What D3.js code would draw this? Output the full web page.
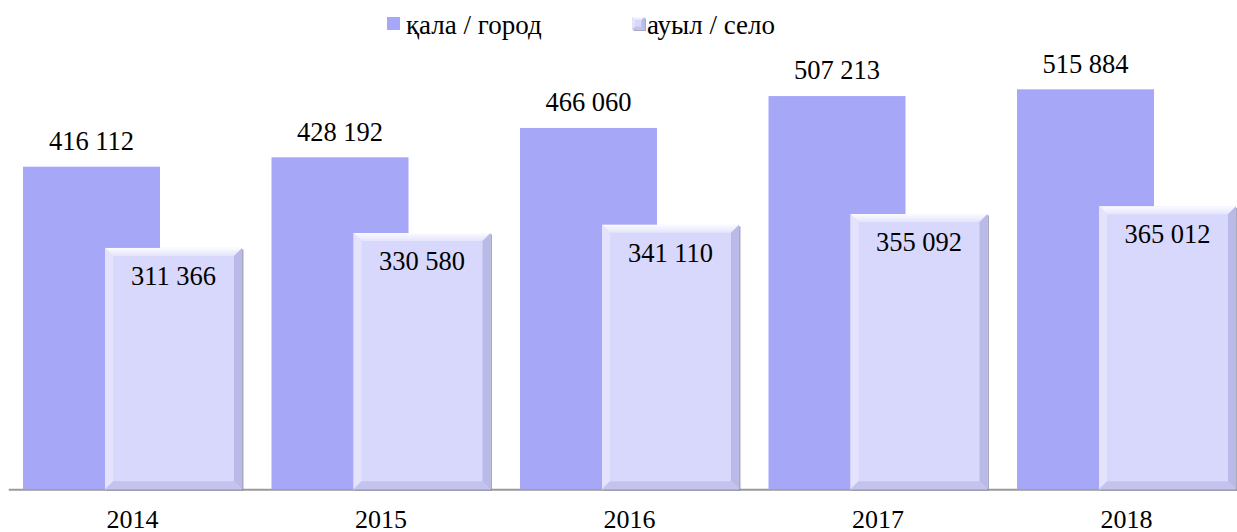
<!DOCTYPE html>
<html><head><meta charset="utf-8">
<script src="https://cdn.jsdelivr.net/npm/d3@7"></script>
<style>
html,body{margin:0;padding:0;background:#fff;}
svg{display:block;}
</style></head>
<body>
<svg id="chart" width="1237" height="532"></svg>
<script>
const years = ["2014","2015","2016","2017","2018"];
const cityValues = [416112, 428192, 466060, 507213, 515884];
const villageValues = [311366, 330580, 341110, 355092, 365012];
const seriesNames = ["қала / город", "ауыл / село"];

const FONT = "'Liberation Serif', Tinos, 'Times New Roman', Times, 'DejaVu Serif', serif";
const svg = d3.select("#chart").style("font-family", FONT);
const defs = svg.append("defs");
const g1 = defs.append("linearGradient").attr("id","topBevel").attr("x1",0).attr("y1",0).attr("x2",0).attr("y2",1);
g1.append("stop").attr("offset","0%").attr("stop-color","#fbfbff");
g1.append("stop").attr("offset","100%").attr("stop-color","#e4e4fd");

const baseY = 489.3;
const pxPerUnit = 7.753e-4;
const yMax = 600000;
const y = d3.scaleLinear().domain([0, yMax]).range([baseY, baseY - yMax*pxPerUnit]);
const x = d3.scaleBand().domain(years).range([8.25, 1250.75]).padding(0);

const barW = 137, cityOff = -109.5, villOff = -27.5, bev = 8;
const cityColor = "#a6a8f7", villColor = "#d8d8fc";
const fmt = v => d3.format(",")(v).replace(/,/g, " ");

// axis
const axis = d3.axisBottom(x).tickSize(0).tickPadding(0);
const ax = svg.append("g").attr("transform", `translate(0,${baseY})`).call(axis)
  .attr("font-family", null).attr("font-size", null);
ax.select(".domain").attr("stroke","#9a9a9a").attr("stroke-width",2);
ax.selectAll(".tick text").attr("dy",null).attr("y",38.5).style("font-size","26px")
  .style("font-family", FONT).attr("fill","#000");

// city bars
const cityG = svg.append("g");
cityG.selectAll("rect").data(years).join("rect")
  .attr("x", d => x(d) + x.bandwidth()/2 + cityOff)
  .attr("y", (d,i) => y(cityValues[i]))
  .attr("width", barW)
  .attr("height", (d,i) => y(0) - y(cityValues[i]))
  .attr("fill", cityColor);
cityG.selectAll("text").data(years).join("text")
  .attr("x", d => x(d) + x.bandwidth()/2 + cityOff + barW/2)
  .attr("y", (d,i) => y(cityValues[i]) - 16.6)
  .attr("text-anchor","middle").style("font-size","26.5px").style("font-family", FONT)
  .text((d,i) => fmt(cityValues[i]));

// bevel drawing
function bevelBar(sel, w, h, b) {
  sel.append("rect").attr("x",1.5).attr("y",1.5).attr("width",w).attr("height",h).attr("fill","#8d8daa").attr("opacity",0.75);
  sel.append("rect").attr("width",w).attr("height",h).attr("fill",villColor);
  sel.append("polygon").attr("points",`0,0 ${w},0 ${w-b},${b} ${b},${b}`).attr("fill","url(#topBevel)");
  sel.append("polygon").attr("points",`0,0 ${b},${b} ${b},${h-b} 0,${h}`).attr("fill","#e3e3fd");
  sel.append("polygon").attr("points",`${w},0 ${w},${h} ${w-b},${h-b} ${w-b},${b}`).attr("fill","#babae8");
  sel.append("polygon").attr("points",`0,${h} ${w},${h} ${w-b},${h-b} ${b},${h-b}`).attr("fill","#c3c3ee");
}

const villG = svg.append("g");
years.forEach((d,i) => {
  const bx = x(d) + x.bandwidth()/2 + villOff;
  const by = y(villageValues[i]);
  const h = y(0) - by;
  const gg = villG.append("g").attr("transform",`translate(${bx},${by})`);
  bevelBar(gg, barW, h, bev);
  villG.append("text").attr("x", bx + barW/2).attr("y", by + 37)
    .attr("text-anchor","middle").style("font-size","26.5px").style("font-family", FONT)
    .text(fmt(villageValues[i]));
});

// legend
const lg = svg.append("g");
lg.append("rect").attr("x",387).attr("y",17).attr("width",13).attr("height",13).attr("fill",cityColor);
lg.append("text").attr("x",406).attr("y",34).style("font-size","27px").style("font-family", FONT).text(seriesNames[0]);
const lm = lg.append("g").attr("transform","translate(632,17)");
bevelBar(lm, 12.5, 12.5, 3);
lg.append("text").attr("x",647).attr("y",34).style("font-size","27px").style("font-family", FONT).text(seriesNames[1]);
</script>
</body></html>
